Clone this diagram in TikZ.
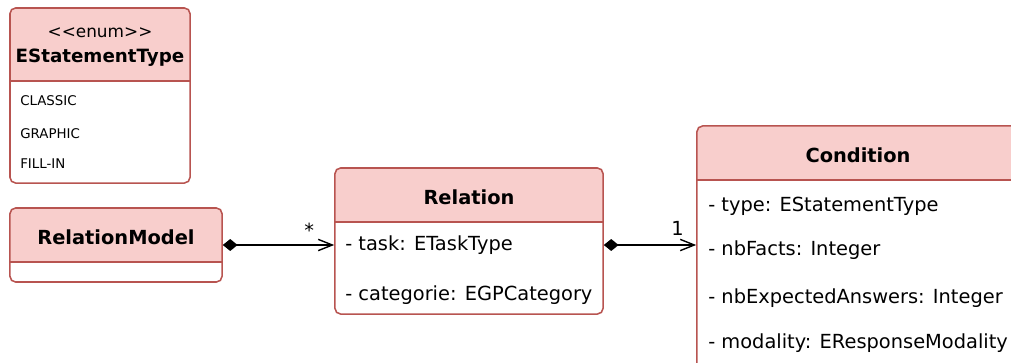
\documentclass[tikz,border=0pt]{standalone}
\usepackage{fontspec}
\setmainfont{DejaVu Sans}
\usetikzlibrary{arrows.meta,positioning,calc}
\definecolor{classfill}{HTML}{F8CECC}
\definecolor{classline}{HTML}{B85450}

\begin{document}
\begin{tikzpicture}[
        x=0.025cm, y=-0.025cm,
        umlclass/.style={draw=classline, fill=white, line width=1.1pt, rounded corners=4pt,
            path picture={
                \fill[classfill, sharp corners] (path picture bounding box.north west) rectangle ($(path picture bounding box.north east)+(0,#1)$);
                \draw[classline, line width=1.1pt, sharp corners] ($(path picture bounding box.north west)+(0,#1)$) -- ($(path picture bounding box.north east)+(0,#1)$);
            }},
        title/.style={font=\fontsize{13.8}{16}\selectfont\bfseries},
        attr/.style={anchor=west, inner sep=0pt, font=\fontsize{13.8}{16}\selectfont},
        literal/.style={anchor=west, inner sep=0pt, font=\fontsize{9.5}{11}\selectfont},
        mult/.style={font=\fontsize{13.8}{16}\selectfont, anchor=south east},
        compose/.style={line width=1pt, {Diamond[length=10.5pt, width=8.5pt]}-{Straight Barb[length=10pt, width=8pt]}}
    ]
    \useasboundingbox (0,0) rectangle (1011,362);
    \clip (0,0) rectangle (1011,362);

    % enumeration
    \node[umlclass=73, minimum width=4.5cm, minimum height=4.375cm] (enum) at (100,95.5) {};
    \node[font=\fontsize{12}{14}\selectfont] (enumStereo) at (100,33) {<\kern0pt<enum>\kern0pt>};
    \node[title, font=\fontsize{13}{15}\selectfont\bfseries] (enumName) at (100,58) {EStatementType};
    \node[literal] (litClassic) at (20,101) {CLASSIC};
    \node[literal] (litGraphic) at (20,134) {GRAPHIC};
    \node[literal] (litFillIn) at (20,164) {FILL-IN};

    % classes
    \node[umlclass=54, minimum width=5.3cm, minimum height=1.85cm] (rm) at (116,245) {};
    \node[title] (rmName) at (116,237) {RelationModel};

    \node[umlclass=54, minimum width=6.7cm, minimum height=3.65cm] (rel) at (469,241) {};
    \node[title] (relName) at (469,197) {Relation};
    \node[attr] (relTask) at (345,245) {- task: ETaskType};
    \node[attr] (relCat) at (345,295) {- categorie: EGPCategory};

    \node[umlclass=54, minimum width=8.05cm, minimum height=6.15cm] (cond) at (858,249) {};
    \node[title] (condName) at (858,155) {Condition};
    \node[attr] (condType) at (708,206) {- type: EStatementType};
    \node[attr] (condFacts) at (708,250) {- nbFacts: Integer};
    \node[attr] (condAnswers) at (708,298) {- nbExpectedAnswers: Integer};
    \node[attr] (condModality) at (708,343) {- modality: EResponseModality};

    % compositions
    \draw[compose] (rm.east) -- (rel.west |- rm.east) node[mult, pos=1, xshift=-10.4pt, yshift=1.5pt] (multMany) {*};
    \draw[compose] (rel.east |- rm.east) -- (cond.west |- rm.east) node[mult, pos=1, xshift=-5pt, yshift=3pt] (multOne) {1};
\end{tikzpicture}
\end{document}
